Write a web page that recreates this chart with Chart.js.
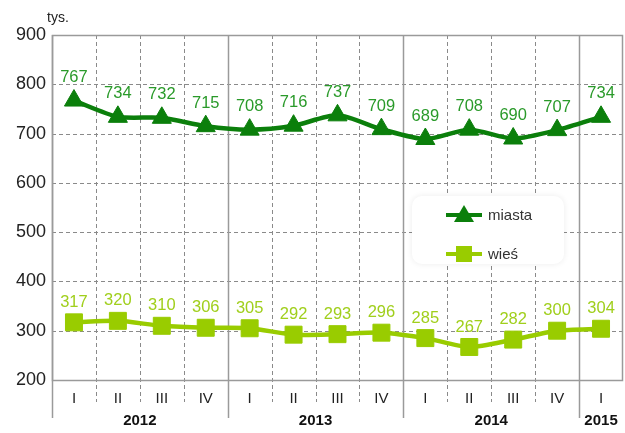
<!DOCTYPE html>
<html>
<head>
<meta charset="utf-8">
<script src="https://cdn.jsdelivr.net/npm/chart.js@4/dist/chart.umd.min.js"></script>
<style>
  html, body { margin: 0; padding: 0; background: #fff; overflow: hidden; }
  #wrap { width: 625px; height: 433px; position: relative; }
  canvas { display: block; }
</style>
</head>
<body>
<div id="wrap"><canvas id="myChart"></canvas></div>
<script>
const quarters = ['I', 'II', 'III', 'IV', 'I', 'II', 'III', 'IV', 'I', 'II', 'III', 'IV', 'I'];
const years = ['2012', '2013', '2014', '2015'];
const yearSpans = [4, 4, 4, 1];
const miasta = [767, 734, 732, 715, 708, 716, 737, 709, 689, 708, 690, 707, 734];
const wies = [317, 320, 310, 306, 305, 292, 293, 296, 285, 267, 282, 300, 304];
const yTicks = [200, 300, 400, 500, 600, 700, 800, 900];

const FONT = "'Liberation Sans', Arial, sans-serif";
const GRID = '#8a8a8a';
const AXIS = '#9a9a9a';

// grid, separators, legend box, unit label
const frame = {
  id: 'frame',
  beforeDatasetsDraw(chart) {
    const { ctx, chartArea: a, scales: { x, y } } = chart;
    const half = (x.getPixelForValue(1) - x.getPixelForValue(0)) / 2;
    ctx.save();
    ctx.lineWidth = 1;

    // horizontal dashed lines
    ctx.strokeStyle = GRID;
    ctx.setLineDash([4, 3]);
    yTicks.slice(1, -1).forEach((v) => {
      const py = Math.round(y.getPixelForValue(v)) + 0.5;
      ctx.beginPath();
      ctx.moveTo(a.left, py);
      ctx.lineTo(a.right, py);
      ctx.stroke();
    });

    // vertical lines between categories
    const yearStarts = [];
    let acc = 0;
    yearSpans.forEach((s) => { yearStarts.push(acc); acc += s; });
    for (let i = 1; i < quarters.length; i++) {
      if (yearStarts.includes(i)) continue;
      const px = Math.round(x.getPixelForValue(i) - half) + 0.5;
      ctx.beginPath();
      ctx.moveTo(px, a.top);
      ctx.lineTo(px, a.bottom + 22);
      ctx.stroke();
    }
    ctx.setLineDash([]);
    ctx.strokeStyle = AXIS;
    ctx.lineWidth = 1.5;
    yearStarts.forEach((i) => {
      const px = Math.round(x.getPixelForValue(i) - half) + 0.5;
      ctx.beginPath();
      ctx.moveTo(px, a.top);
      ctx.lineTo(px, a.bottom + 38);
      ctx.stroke();
    });
    // plot outline
    ctx.strokeRect(a.left + 0.5, a.top + 0.5, a.right - a.left - 1, a.bottom - a.top);

    // year labels
    ctx.fillStyle = '#111';
    ctx.font = `bold 15px ${FONT}`;
    ctx.textAlign = 'center';
    ctx.textBaseline = 'middle';
    years.forEach((yr, k) => {
      const s = yearStarts[k];
      const e = s + yearSpans[k] - 1;
      const cx = (x.getPixelForValue(s) + x.getPixelForValue(e)) / 2;
      ctx.fillText(yr, cx, a.bottom + 41);
    });

    // unit label
    ctx.font = `14px ${FONT}`;
    ctx.fillStyle = '#222';
    ctx.textAlign = 'left';
    ctx.fillText('tys.', 47, 18);

    // legend
    const lx = 412, ly = 196, lw = 152, lh = 68;
    ctx.shadowColor = 'rgba(0,0,0,0.08)';
    ctx.shadowBlur = 6;
    ctx.fillStyle = '#fff';
    ctx.beginPath();
    ctx.roundRect(lx, ly, lw, lh, 10);
    ctx.fill();
    ctx.shadowColor = 'transparent';
    chart.data.datasets.forEach((ds, k) => {
      const cy = ly + 19 + k * 39;
      ctx.strokeStyle = ds.borderColor;
      ctx.lineWidth = 4;
      ctx.beginPath();
      ctx.moveTo(446, cy);
      ctx.lineTo(482, cy);
      ctx.stroke();
      ctx.fillStyle = ds.borderColor;
      ctx.beginPath();
      if (ds.pointStyle === 'triangle') {
        ctx.moveTo(464, cy - 10);
        ctx.lineTo(474, cy + 7);
        ctx.lineTo(454, cy + 7);
        ctx.closePath();
      } else {
        ctx.rect(456, cy - 8, 16, 16);
      }
      ctx.fill();
      ctx.fillStyle = '#333';
      ctx.font = `15px ${FONT}`;
      ctx.textAlign = 'left';
      ctx.fillText(ds.label, 488, cy + 1);
    });
    ctx.restore();
  },
  afterDatasetsDraw(chart) {
    const { ctx } = chart;
    ctx.save();
    ctx.font = `16.5px ${FONT}`;
    ctx.textAlign = 'center';
    ctx.textBaseline = 'middle';
    chart.data.datasets.forEach((ds, k) => {
      const meta = chart.getDatasetMeta(k);
      ctx.fillStyle = ds.labelColor;
      meta.data.forEach((pt, i) => {
        ctx.fillText(String(ds.data[i]), pt.x, pt.y - ds.labelOffset);
      });
    });
    ctx.restore();
  },
};

new Chart(document.getElementById('myChart').getContext('2d'), {
  type: 'line',
  data: {
    labels: quarters,
    datasets: [
      {
        label: 'miasta',
        data: miasta,
        borderColor: '#0b7f0b',
        backgroundColor: '#0b7f0b',
        labelColor: '#2a9a2a',
        labelOffset: 23,
        borderWidth: 4.5,
        pointStyle: 'triangle',
        pointRadius: 11,
        pointHoverRadius: 11,
        pointBorderWidth: 1,
        tension: 0.25,
      },
      {
        label: 'wieś',
        data: wies,
        borderColor: '#99cc00',
        backgroundColor: '#99cc00',
        labelColor: '#a0cf1c',
        labelOffset: 20,
        borderWidth: 4.5,
        pointStyle: 'rect',
        pointRadius: 12,
        pointHoverRadius: 12,
        pointBorderWidth: 1,
        tension: 0.25,
      },
    ],
  },
  options: {
    responsive: true,
    maintainAspectRatio: false,
    animation: false,
    layout: { autoPadding: false, padding: { top: 35, right: 2, left: 0, bottom: 0 } },
    plugins: {
      legend: { display: false },
      tooltip: { enabled: false },
    },
    scales: {
      x: {
        offset: true,
        grid: { display: false, drawTicks: false },
        border: { display: false },
        ticks: {
          color: '#222',
          font: { family: FONT, size: 15 },
          padding: 10,
          autoSkip: false,
          maxRotation: 0,
        },
        afterFit(scale) {
          scale.height = 53;
          scale.paddingLeft = 0;
          scale.paddingRight = 0;
        },
      },
      y: {
        min: 200,
        max: 900,
        grid: { display: false, drawTicks: false },
        border: { display: false },
        ticks: {
          stepSize: 100,
          color: '#222',
          font: { family: FONT, size: 18 },
          padding: 6,
        },
        afterFit(scale) {
          scale.width = 52;
          scale.paddingTop = 0;
          scale.paddingBottom = 0;
        },
      },
    },
  },
  plugins: [frame],
});
</script>
</body>
</html>
